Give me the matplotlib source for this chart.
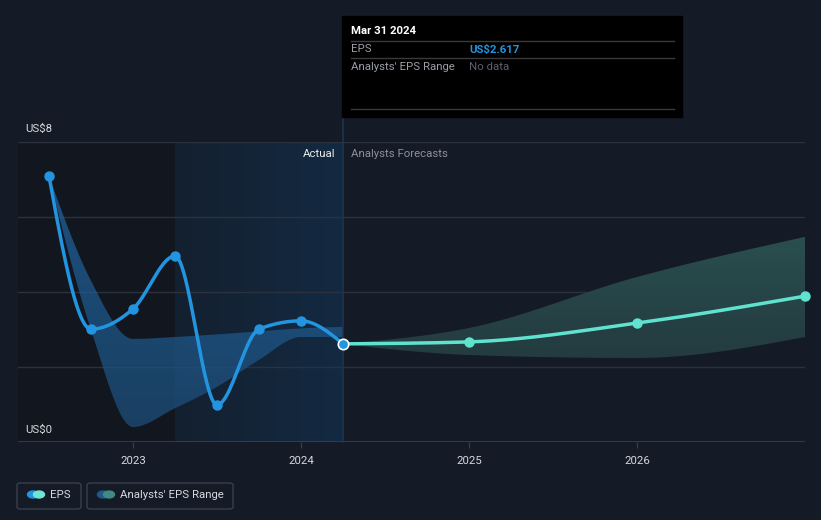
import numpy as np
import matplotlib
matplotlib.use('Agg')
import matplotlib.pyplot as plt
from matplotlib.colors import LinearSegmentedColormap
from matplotlib.patches import Rectangle, FancyBboxPatch, Circle

plt.rcParams['font.family'] = ['Roboto', 'DejaVu Sans']

# actual EPS (quarterly)
act_x = [2022.5, 2022.75, 2023.0, 2023.25, 2023.5, 2023.75, 2024.0, 2024.25]
act_eps = [7.09, 3.01, 3.55, 4.96, 0.99, 3.01, 3.23, 2.617]
# past range band
past_hi = [7.09, 4.3, 2.75, 2.8, 2.87, 2.95, 3.03, 3.07]
past_lo = [7.09, 2.99, 0.4, 0.9, 1.47, 2.19, 2.8, 2.8]
# forecasts
fc_x = [2024.25, 2025.0, 2026.0, 2027.0]
fc_eps = [2.617, 2.67, 3.17, 3.89]
fc_hi = [2.617, 3.04, 4.4, 5.47]
fc_lo = [2.617, 2.32, 2.24, 2.8]
year_ticks = [2023, 2024, 2025, 2026]

BG = '#151b26'
W, H = 821, 520
FS = 8.2


def monotone(x, y, n=300):
    x = np.asarray(x, float); y = np.asarray(y, float)
    h = np.diff(x); s = np.diff(y) / h
    m = np.zeros(len(x))
    for i in range(1, len(x) - 1):
        p = (s[i-1] * h[i] + s[i] * h[i-1]) / (h[i-1] + h[i])
        m[i] = (np.sign(s[i-1]) + np.sign(s[i])) * min(abs(s[i-1]), abs(s[i]), 0.5 * abs(p))
    m[0] = (3 * s[0] - m[1]) / 2
    m[-1] = (3 * s[-1] - m[-2]) / 2
    xs = np.linspace(x[0], x[-1], n)
    idx = np.clip(np.searchsorted(x, xs) - 1, 0, len(h) - 1)
    t = (xs - x[idx]) / h[idx]
    h00 = 2*t**3 - 3*t**2 + 1; h10 = t**3 - 2*t**2 + t
    h01 = -2*t**3 + 3*t**2; h11 = t**3 - t**2
    ys = h00*y[idx] + h10*h[idx]*m[idx] + h01*y[idx+1] + h11*h[idx]*m[idx+1]
    return xs, ys


def fx(px):
    return px / W


def fy(py):
    return 1 - py / H


fig = plt.figure(figsize=(W/100, H/100), dpi=100, facecolor=BG)
ax = fig.add_axes([fx(18), fy(442), fx(805) - fx(18), fy(142) - fy(442)])
ax.set_facecolor(BG)
x0 = 2024 - 283/168
x1 = 2027.0
ax.set_xlim(x0, x1)
ax.set_ylim(0, 8)

# background zones
ax.axvspan(x0, 2023.25, color='#12161e', zorder=0)
hl = LinearSegmentedColormap.from_list('hl', ['#13202f', '#142a42'])
ax.imshow(np.linspace(0, 1, 256).reshape(1, -1), extent=[2023.25, 2024.25, 0, 8],
          aspect='auto', cmap=hl, zorder=0.5)

# gridlines
for v in [2, 4, 6, 8]:
    ax.axhline(v, color='#2c323d', lw=1, zorder=1)
ax.axhline(0, color='#3b414c', lw=1.2, zorder=1)

# bands with gradient
def grad_band(x, lo, hi, c_top, c_bot, alpha):
    xs, ylo = monotone(x, lo)
    _, yhi = monotone(x, hi)
    poly = ax.fill_between(xs, ylo, yhi, color='none', lw=0)
    cm = LinearSegmentedColormap.from_list('g', [c_bot, c_top])
    im = ax.imshow(np.linspace(1, 0, 256).reshape(-1, 1), extent=[x[0], x[-1], 0, 8],
                   aspect='auto', cmap=cm, alpha=alpha, zorder=2)
    im.set_clip_path(poly.get_paths()[0], transform=ax.transData)

grad_band(act_x, past_lo, past_hi, '#2068a6', '#1e4d78', 0.75)
grad_band(fc_x, fc_lo, fc_hi, '#33615f', '#1e3036', 0.95)
ax.set_xlim(x0, x1)
ax.set_ylim(0, 8)

# lines
xs, ys = monotone(act_x, act_eps)
ax.plot(xs, ys, color='#2394df', lw=2.5, zorder=4, solid_capstyle='round')
ax.plot(act_x[:-1], act_eps[:-1], 'o', color='#2394df', ms=6.5, zorder=5)
xs, ys = monotone(fc_x, fc_eps)
ax.plot(xs, ys, color='#5fe3cf', lw=2.5, zorder=4)
ax.plot(fc_x[1:], fc_eps[1:], 'o', color='#5fe3cf', ms=6.5, zorder=5, clip_on=False)
ax.plot([act_x[-1]], [act_eps[-1]], 'o', color='#2394df', mec='white', mew=1.2, ms=7.5, zorder=6)

# vertical divider
ax.plot([2024.25, 2024.25], [0, 8 + 25/37.5], color='#1c3550', lw=1.2, zorder=3, clip_on=False)

ax.set_xticks(year_ticks)
ax.set_xticklabels([str(y) for y in year_ticks], color='#d5d8dd', fontsize=FS)
ax.tick_params(axis='x', length=4, color='#3b414c', pad=6)
ax.set_yticks([])
for sp in ax.spines.values():
    sp.set_visible(False)

fig.text(fx(25), fy(129), 'US$8', color='#d5d8dd', fontsize=FS, va='center')
fig.text(fx(25), fy(430), 'US$0', color='#d5d8dd', fontsize=FS, va='center')
fig.text(fx(335), fy(154), 'Actual', color='#e8eaed', fontsize=FS, va='center', ha='right')
fig.text(fx(351), fy(154), 'Analysts Forecasts', color='#8c9199', fontsize=FS, va='center')

# tooltip
fig.patches.append(Rectangle((fx(342), fy(117)), fx(682) - fx(342), fy(16) - fy(117),
                             transform=fig.transFigure, color='black', zorder=10))
for py in [41, 58, 109]:
    fig.add_artist(plt.Line2D([fx(351), fx(674)], [fy(py), fy(py)], color='#3a3a3a', lw=1,
                              transform=fig.transFigure, zorder=11))
fig.text(fx(351), fy(31), 'Mar 31 2024', color='white', fontsize=FS, fontweight='bold',
         va='center', zorder=12)
fig.text(fx(351), fy(49.5), 'EPS', color='#9a9ea5', fontsize=FS, va='center', zorder=12)
fig.text(fx(469), fy(49.5), 'US$2.617', color='#2394df', fontsize=FS, fontweight='bold',
         va='center', zorder=12)
fig.text(fx(351), fy(66.5), "Analysts' EPS Range", color='#9a9ea5', fontsize=FS, va='center', zorder=12)
fig.text(fx(469), fy(66.5), 'No data', color='#5d6168', fontsize=FS, va='center', zorder=12)

# legend
def legend_box(px0, px1, c1, c2, label):
    fig.patches.append(FancyBboxPatch((fx(px0), fy(509)), fx(px1) - fx(px0), fy(483) - fy(509),
                                      boxstyle='round,pad=0,rounding_size=0.004',
                                      transform=fig.transFigure, fc='none', ec='#3a404b', lw=1))
    for cx, c in [(px0 + 16, c1), (px0 + 22, c2)]:
        fig.patches.append(Circle((fx(cx), fy(494.5)), 5.5 / W, transform=fig.transFigure,
                                  color=c, zorder=3))
    fig.text(fx(px0 + 33), fy(495), label, color='#d5d8dd', fontsize=FS, va='center')

legend_box(17, 81, '#2394df', '#6fe6d4', 'EPS')
legend_box(87, 233, '#1f5a8a', '#3f8a84', "Analysts' EPS Range")

fig.savefig('out.png', dpi=100, facecolor=BG)
